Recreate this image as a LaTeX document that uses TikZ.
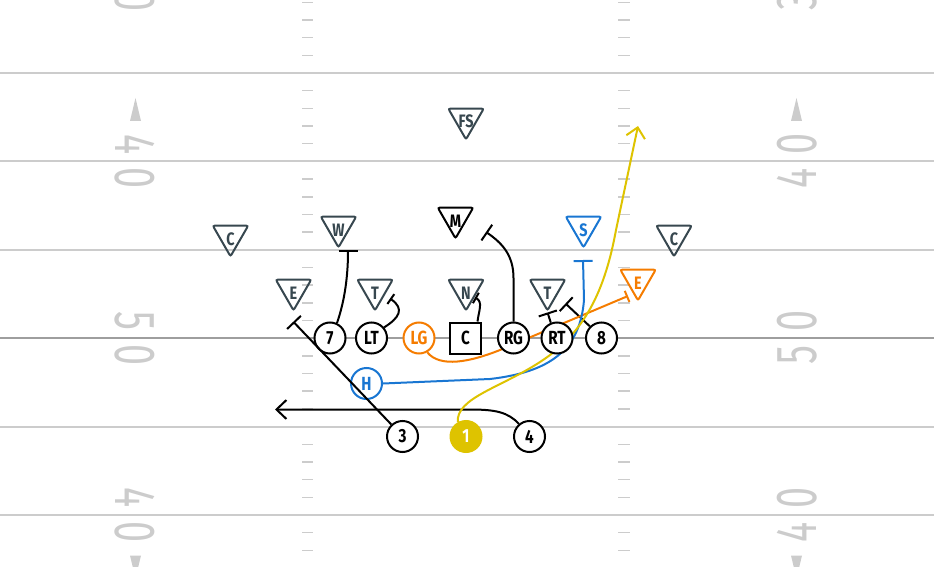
\documentclass[tikz,border=0pt]{standalone}
\usepackage{fontspec}
\setmainfont[FakeStretch=0.8]{Fira Sans}
\newfontfamily\yardfont[FakeStretch=0.65]{Fira Sans}
\usetikzlibrary{arrows.meta}

\definecolor{fieldgray}{HTML}{CCCCCC}
\definecolor{losgray}{HTML}{9E9E9E}
\definecolor{slate}{HTML}{37474F}
\definecolor{routeorange}{HTML}{F57C00}
\definecolor{routeblue}{HTML}{1976D2}
\definecolor{routeyellow}{HTML}{DEC300}

\pgfdeclarelayer{field}
\pgfdeclarelayer{routes}
\pgfsetlayers{field,routes,main}

\tikzset{
  yardline/.style={draw=fieldgray, line width=2pt},
  hashmark/.style={draw=fieldgray, line width=1.5pt},
  yardnum/.style={text=fieldgray, inner sep=0pt, font=\yardfont\fontsize{58}{58}\selectfont},
  player/.style={circle, draw=black, fill=white, line width=2pt, minimum size=31pt, inner sep=0pt,
    font=\fontsize{19}{19}\selectfont\bfseries},
  defender/.style={inner sep=0pt, minimum width=35pt, minimum height=30.3pt,
    text height=13pt, text depth=5pt, text=#1, font=\fontsize{18}{18}\selectfont\bfseries,
    append after command={\pgfextra{\draw[draw=#1, line width=2pt, rounded corners=2pt]
      (\tikzlastnode.north west) -- (\tikzlastnode.north east) -- (\tikzlastnode.south) -- cycle;}}},
  defender/.default=slate,
  block/.style={line width=2pt, -{Bar[width=19pt]}},
  hook/.style={line width=2pt, -{Bar[width=12pt]}},
  route/.style={line width=2pt, -{Straight Barb[length=10pt, width=19pt]}}
}

\begin{document}
\begin{tikzpicture}[x=1pt, y=-1pt]
\useasboundingbox (0,0) rectangle (934,567);
\clip (0,0) rectangle (934,567);

% field
\begin{pgfonlayer}{field}
\foreach \l in {0,...,5}
  \draw[yardline] (0,{73+88.4*\l}) -- (934,{73+88.4*\l});
\draw[yardline, draw=losgray] (0,338.2) -- (934,338.2);
\foreach \l in {-1,...,5}
  \foreach \k in {1,...,4}
    \draw[hashmark] (302,{73+88.4*\l+17.68*\k}) -- ++(11,0)
                    (618,{73+88.4*\l+17.68*\k}) -- ++(12,0);
\foreach \yy/\a/\b [count=\i] in {-15.5/3/0, 161.4/4/0, 338.2/5/0, 515/4/0} {
  \node[yardnum, rotate=-90] (numLa\i) at (135,\yy-17) {\a};
  \node[yardnum, rotate=-90] (numLb\i) at (135,\yy+17) {\b};
  \node[yardnum, rotate=90] (numRa\i) at (797,\yy+17) {\a};
  \node[yardnum, rotate=90] (numRb\i) at (797,\yy-17) {\b};
}
\foreach \xx in {135.5,796.5} {
  \fill[fieldgray] (\xx-5.5,121) -- (\xx,98) -- (\xx+5.5,121) -- cycle;
  \fill[fieldgray] (\xx-5.5,555.5) -- (\xx,578.5) -- (\xx+5.5,555.5) -- cycle;
}
\end{pgfonlayer}

% offense
\node[player] (n7) at (330,338) {7};
\node[player] (LT) at (371.5,338) {LT};
\node[player, draw=routeorange, text=routeorange] (LG) at (419,338) {LG};
\node[player, rectangle] (C) at (465.5,338) {C};
\node[player] (RG) at (513.5,338) {RG};
\node[player] (RT) at (557,338) {RT};
\node[player] (n8) at (601.5,338) {8};
\node[player, draw=routeblue, text=routeblue] (H) at (366.5,383.5) {H};
\node[player] (n3) at (402.5,436.5) {3};
\node[player, draw=routeyellow, fill=routeyellow, text=white] (n1) at (466,436.5) {1};
\node[player] (n4) at (529.5,436.5) {4};

% defense
\node[defender] (FS) at (466,124) {FS};
\node[defender] (CL) at (230.5,241) {C};
\node[defender] (W) at (338.5,232) {W};
\node[defender] (EL) at (293.5,295) {E};
\node[defender] (TL) at (375,295) {T};
\node[defender=black] (M) at (455.5,223) {M};
\node[defender] (N) at (466,295) {N};
\node[defender] (TR) at (547.5,295) {T};
\node[defender=routeblue] (S) at (583.5,232) {S};
\node[defender] (CR) at (674,241) {C};
\node[defender=routeorange] (ER) at (638,285) {E};

% routes
\coordinate (wblk) at (348,250);
\coordinate (ltblk) at (390,298.5);
\coordinate (cblk) at (475,297.5);
\coordinate (mblk) at (486,232);
\coordinate (rtblk) at (547.5,312.5);
\coordinate (eightblk) at (565.5,303.5);
\coordinate (lgblk) at (628,296);
\coordinate (hblk) at (583,260);
\coordinate (eblk) at (293.3,321.7);
\coordinate (post) at (638,126);
\coordinate (sweep) at (275,409.5);

\begin{pgfonlayer}{routes}
\draw[block] (n7.65) .. controls (345,300) and (348,275) .. (wblk);
\draw[hook] (LT.40) .. controls (399,318) and (405,309) .. (ltblk);
\draw[hook] ([xshift=12pt]C.north) .. controls (479,310) and (483,302) .. (cblk);
\draw[block] (RG.north) -- (513.5,278) .. controls (513.5,255) and (502,243) .. (mblk);
\draw[block] (RT.112) -- (rtblk);
\draw[block] (n8.135) -- (eightblk);
\draw[hook, routeorange] (LG.-60) .. controls (440,368) and (470,362) .. (500,350) -- (lgblk);
\draw[block, routeblue] (H.east) -- (490,379) .. controls (550,372) and (580,350) .. (584,300) -- (hblk);
\draw[route] (n4.130) .. controls (508,412) and (495,409.5) .. (470,409.5) -- (sweep);
\draw[route, routeyellow] (n1.120) .. controls (456,398) and (500,388) .. (540,362)
  .. controls (585,333) and (605,290) .. (616,230) -- (post);
\end{pgfonlayer}
\draw[block] (n3.133) -- (eblk);
\end{tikzpicture}
\end{document}
